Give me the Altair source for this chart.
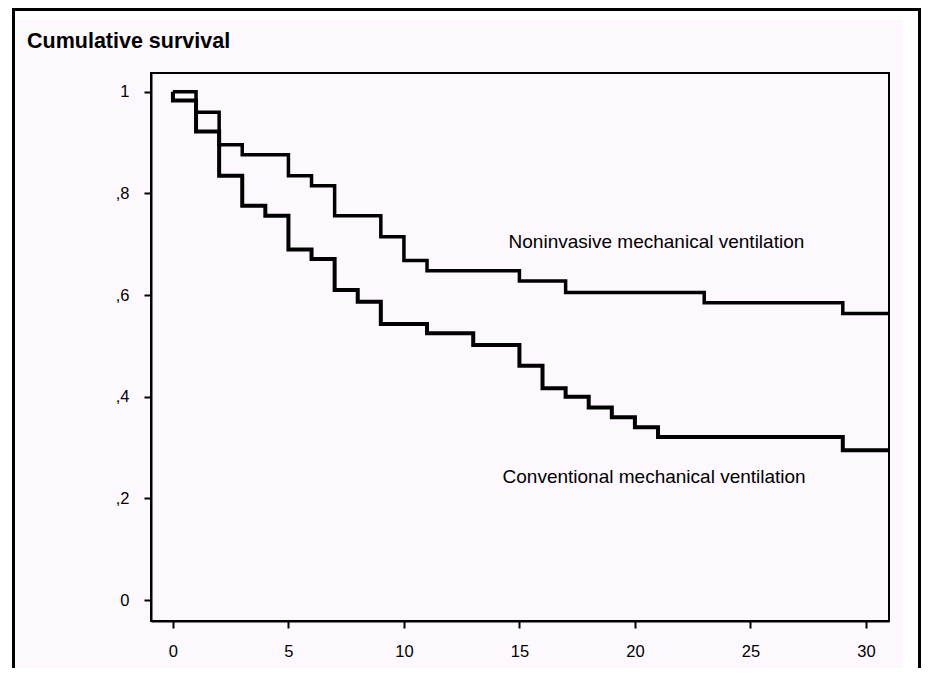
import altair as alt
import pandas as pd

# Kaplan-Meier steps (days, cumulative survival)
series_names = ["Noninvasive mechanical ventilation", "Conventional mechanical ventilation"]
non_x = [0, 1, 2, 3, 5, 6, 7, 9, 10, 11, 15, 17, 23, 29, 31]
non_y = [1.0, 0.96, 0.896, 0.876, 0.835, 0.815, 0.756, 0.715, 0.668, 0.648, 0.628, 0.605, 0.585, 0.564, 0.564]
conv_x = [0, 0, 1, 2, 3, 4, 5, 6, 7, 8, 9, 11, 13, 15, 16, 17, 18, 19, 20, 21, 29, 31]
conv_y = [1.0, 0.983, 0.922, 0.835, 0.776, 0.756, 0.690, 0.671, 0.610, 0.587, 0.543, 0.525,
          0.502, 0.461, 0.417, 0.400, 0.379, 0.360, 0.340, 0.321, 0.295, 0.295]

x_ticks = [0, 5, 10, 15, 20, 25, 30]
y_ticks = [0, 0.2, 0.4, 0.6, 0.8, 1.0]
y_tick_labels = ["0", ",2", ",4", ",6", ",8", "1"]

label_text = ["Noninvasive mechanical ventilation", "Conventional mechanical ventilation"]
label_x = [14.53, 14.27]
label_y = [0.693, 0.230]

title_text = "Cumulative survival"

rows = []
for i, (x, y) in enumerate(zip(non_x, non_y)):
    rows.append({"series": series_names[0], "t": x, "s": y, "i": i})
for i, (x, y) in enumerate(zip(conv_x, conv_y)):
    rows.append({"series": series_names[1], "t": x, "s": y, "i": i})
df = pd.DataFrame(rows)
lab_df = pd.DataFrame({"text": label_text, "t": label_x, "s": label_y})

FONT = "Liberation Sans, Arial, Helvetica, sans-serif"
PINK = "#fdf8fd"

label_expr = " : ".join(
    f"abs(datum.value - {v}) < 0.001 ? '{l}'" for v, l in zip(y_ticks, y_tick_labels)
) + " : ''"

xscale = alt.Scale(domain=[-0.95, 31], nice=False, zero=False)
yscale = alt.Scale(domain=[-0.041, 1.037], nice=False, zero=False)

xaxis = alt.Axis(values=x_ticks, title=None, grid=False, domainColor="black", domainWidth=2,
                 tickColor="black", tickWidth=2, tickSize=7, labelFontSize=16.5, labelColor="black",
                 labelFont=FONT, labelPadding=15, labelFlush=False, zindex=1)
yaxis = alt.Axis(values=y_ticks, title=None, grid=False, domainColor="black", domainWidth=2,
                 tickColor="black", tickWidth=2, tickSize=7, labelFontSize=16.5, labelColor="black",
                 labelFont=FONT, labelPadding=15, labelExpr=label_expr, zindex=1)

one = alt.Data(values=[{}])

# white margins around the pink page area
white_top = alt.Chart(one).mark_rect(color="white").encode(
    x=alt.value(-143), x2=alt.value(771), y=alt.value(-65), y2=alt.value(-53)
)
white_right = alt.Chart(one).mark_rect(color="white").encode(
    x=alt.value(752), x2=alt.value(771), y=alt.value(-65), y2=alt.value(595)
)
white_left = alt.Chart(one).mark_rect(color="white").encode(
    x=alt.value(-143), x2=alt.value(-138), y=alt.value(-65), y2=alt.value(595)
)
border_left = alt.Chart(one).mark_rule(color="black", strokeWidth=3).encode(
    x=alt.value(-137.5), y=alt.value(-66), y2=alt.value(600)
)
border_top = alt.Chart(one).mark_rule(color="black", strokeWidth=3).encode(
    x=alt.value(-139), x2=alt.value(770), y=alt.value(-63.5)
)
border_right = alt.Chart(one).mark_rule(color="black", strokeWidth=3).encode(
    x=alt.value(768.5), y=alt.value(-66), y2=alt.value(600)
)

title = alt.Chart(one).mark_text(align="left", baseline="alphabetic", fontSize=21.5,
                                 fontWeight="bold", font=FONT, color="black").encode(
    x=alt.value(-124), y=alt.value(-25), text=alt.value(title_text)
)

lines = alt.Chart(df).mark_line(interpolate="step-after", color="black", clip=True).encode(
    x=alt.X("t:Q", scale=xscale, axis=xaxis),
    y=alt.Y("s:Q", scale=yscale, axis=yaxis),
    detail="series:N",
    order="i:Q",
    strokeWidth=alt.StrokeWidth("series:N", scale=alt.Scale(domain=series_names, range=[3.5, 4]), legend=None),
)

labels = alt.Chart(lab_df).mark_text(align="left", baseline="alphabetic", fontSize=19,
                                     font=FONT, color="black").encode(
    x=alt.X("t:Q", scale=xscale),
    y=alt.Y("s:Q", scale=yscale),
    text="text:N",
)

chart = alt.layer(white_top, white_right, white_left, border_left, border_top, border_right,
                  title, lines, labels).properties(
    width=738,
    height=548,
    autosize=alt.AutoSizeParams(type="none"),
    padding={"left": 143, "top": 65, "right": 33, "bottom": 47},
    background=PINK,
).configure_view(stroke="black", strokeWidth=2, fill=PINK)

chart.save("out.html", embed_options={"renderer": "svg", "actions": False})
